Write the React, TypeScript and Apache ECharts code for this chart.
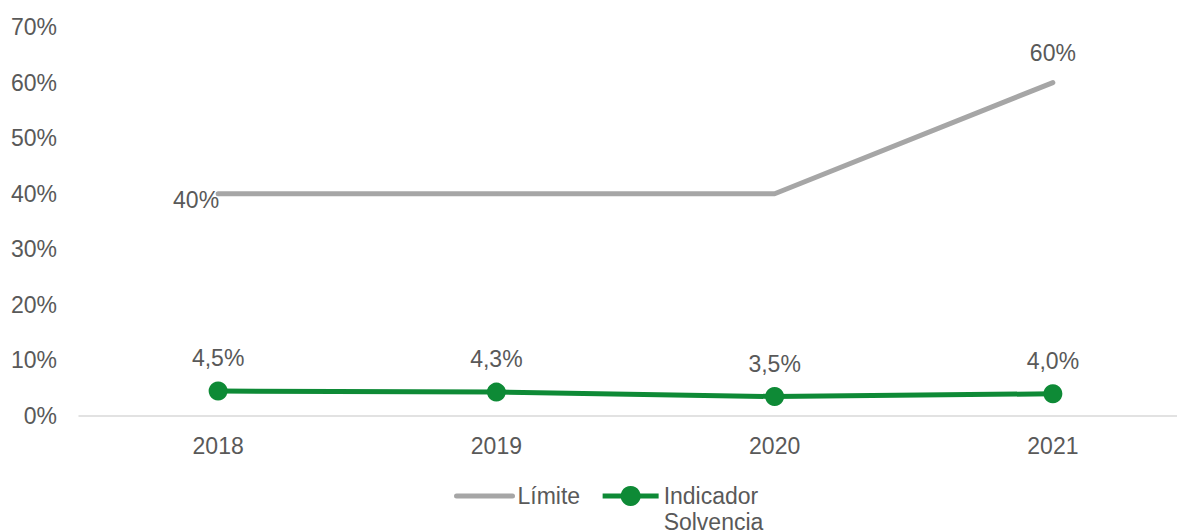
import React, { useEffect, useRef } from "react";
import * as echarts from "echarts";

const categories = ["2018", "2019", "2020", "2021"];
const limiteValues = [40, 40, 40, 60];
const solvenciaValues = [4.5, 4.3, 3.5, 4.0];
const yTicks = [0, 10, 20, 30, 40, 50, 60, 70];

const TEXT = "#595959";
const FONT = "Liberation Sans, Arial, sans-serif";
const FS = 23;

export default function App() {
  const ref = useRef<HTMLDivElement>(null);
  useEffect(() => {
    const chart = echarts.init(ref.current!, null, { renderer: "svg" });
    chart.setOption({
      animation: false,
      textStyle: { fontFamily: FONT },
      grid: { left: 79, top: 27, width: 1113, height: 389 },
      xAxis: {
        type: "category",
        data: categories,
        boundaryGap: true,
        axisLine: { lineStyle: { color: "#D9D9D9", width: 1.5 } },
        axisTick: { show: false },
        axisLabel: { color: TEXT, fontSize: FS, fontFamily: FONT, margin: 18 },
      },
      yAxis: {
        type: "value",
        min: yTicks[0],
        max: yTicks[yTicks.length - 1],
        interval: 10,
        splitLine: { show: false },
        axisLine: { show: false },
        axisTick: { show: false },
        axisLabel: {
          color: TEXT,
          fontSize: FS,
          fontFamily: FONT,
          margin: 22,
          formatter: (v: number) => `${v}%`,
        },
      },
      legend: {
        left: 449,
        top: 452,
        itemWidth: 56,
        itemHeight: 25,
        itemGap: 20,
        lineStyle: { width: 5 },
        textStyle: { color: TEXT, fontSize: FS, fontFamily: FONT, lineHeight: 26 },
        formatter: (n: string) =>
          n === "Límite" ? n : "\u00a0\n" + n.replace(" ", "\n"),
        data: [
          { name: "Límite", itemStyle: { opacity: 0 }, lineStyle: { width: 5, cap: "round" } },
          { name: "Indicador Solvencia", lineStyle: { width: 5 } },
        ],
      },
      series: [
        {
          name: "Límite",
          type: "line",
          data: limiteValues.map((v, i) => {
            if (i === 0)
              return {
                value: v,
                label: { show: true, position: "left", distance: 0, offset: [2, 6] },
              };
            if (i === limiteValues.length - 1)
              return { value: v, label: { show: true, position: "top", distance: 17 } };
            return v;
          }),
          symbol: "circle",
          symbolSize: 2,
          itemStyle: { color: "#A6A6A6" },
          lineStyle: { color: "#A6A6A6", width: 5, cap: "round" },
          label: {
            show: false,
            color: TEXT,
            fontSize: FS,
            fontFamily: FONT,
            formatter: (p: any) => `${p.value}%`,
          },
          emphasis: { disabled: true },
        },
        {
          name: "Indicador Solvencia",
          type: "line",
          data: solvenciaValues,
          symbol: "circle",
          symbolSize: 19,
          itemStyle: { color: "#0E8A36" },
          lineStyle: { color: "#0E8A36", width: 5 },
          label: {
            show: true,
            position: "top",
            distance: 12,
            color: TEXT,
            fontSize: FS,
            fontFamily: FONT,
            formatter: (p: any) => `${p.value.toFixed(1).replace(".", ",")}%`,
          },
          emphasis: { disabled: true },
        },
      ],
    });
    return () => chart.dispose();
  }, []);
  return (
    <div
      style={{ position: "absolute", left: 0, top: 0, width: 1177, height: 531, overflow: "hidden" }}
    >
      <div ref={ref} style={{ width: 1200, height: 531 }} />
    </div>
  );
}
